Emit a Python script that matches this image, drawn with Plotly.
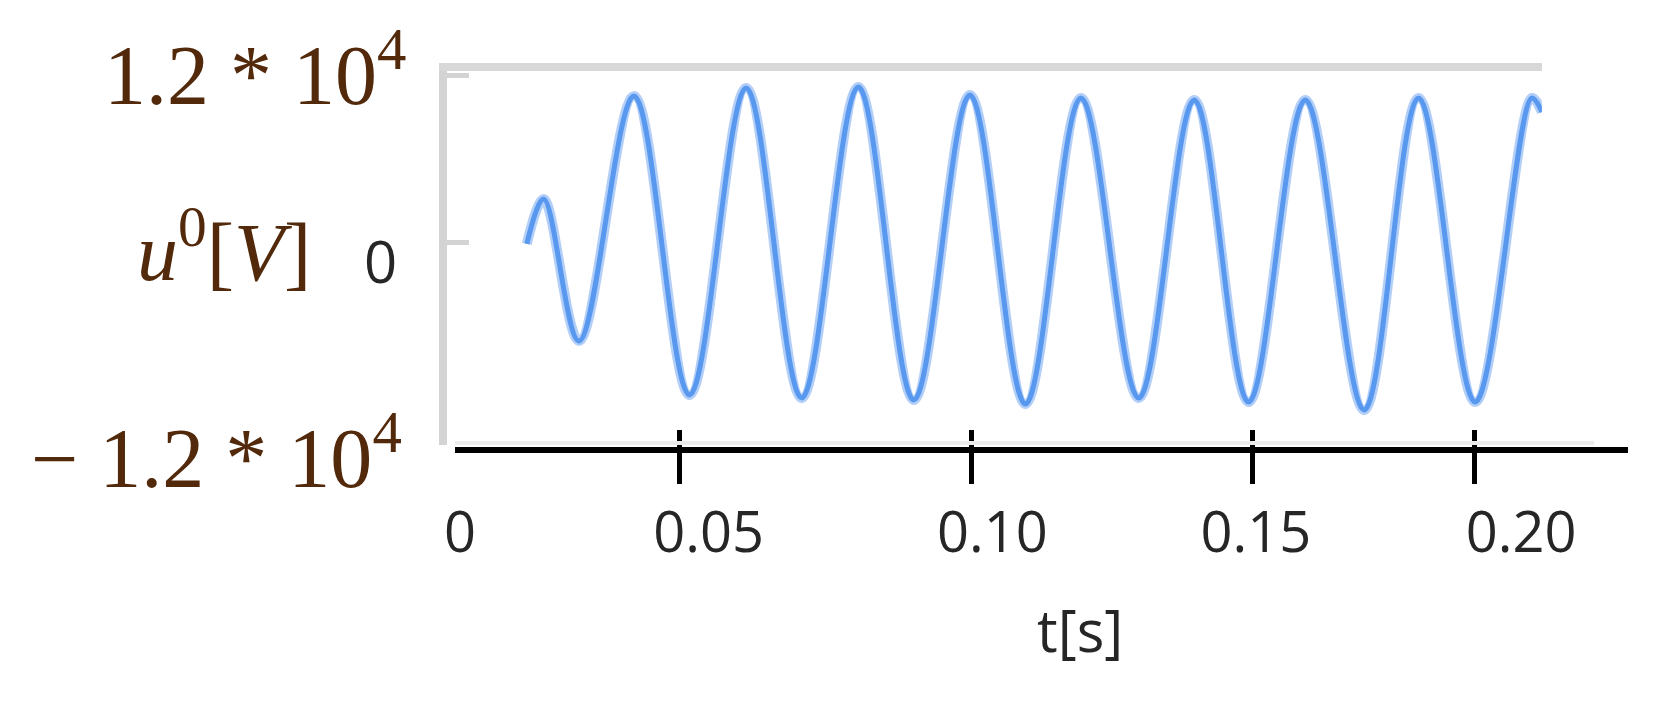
import plotly.graph_objects as go

# waveform (start, peaks and troughs, end)
t_s = [0.0206, 0.0236, 0.0299, 0.0397, 0.0496, 0.0597, 0.0696, 0.0797, 0.0896, 0.0996,
       0.1095, 0.1194, 0.1297, 0.1396, 0.1493, 0.1594, 0.1699, 0.1796, 0.1897, 0.1998,
       0.2016]
u0_v = [-140, 3090, -7110, 10490, -10990, 11070, -11210, 11140, -11350, 10560,
        -11640, 10350, -11210, 10200, -11500, 10200, -12070, 10350, -11500, 10350,
        9340]

# hand-drawn time axis: tick marks and labels sit where the picture has them
tick_marks = [0.0478, 0.0999, 0.1500, 0.1895]
label_pos = [0.0087, 0.0530, 0.1036, 0.1506, 0.1979]
label_text = ["0", "0.05", "0.10", "0.15", "0.20"]

y_ticks = [0, 12000]

W, H = 1672, 703
X_RANGE = [0.00638, 0.20159]
X_AXIS_RANGE = [0.00780, 0.21701]
FRAME_RANGE = [0.00780, 0.20833]
Y_RANGE = [-14588, 12288]

SANS = "Open Sans, sans-serif"
SERIF = "Liberation Serif, Times New Roman, serif"
LABEL_BROWN = "#52290a"
TICK_GREY = "#262626"

fig = go.Figure()
# soft halo + core to mimic the blurry screenshot line
fig.add_scatter(x=t_s, y=u0_v, mode="lines", line_shape="spline",
                line=dict(color="#b3cff8", width=10), hoverinfo="skip")
fig.add_scatter(x=t_s, y=u0_v, mode="lines", line_shape="spline",
                line=dict(color="#5898ef", width=5), name="u0")
for ax in ["x2", "x3", "x4", "x5"]:
    fig.add_scatter(x=[], y=[], xaxis=ax, yaxis="y")

dom_plot = [439 / W, 1541 / W]
dom_axis = [447 / W, 1628 / W]
dom_frame = [447 / W, 1593 / W]
pos_axis = 1 - 450 / H

fig.update_layout(
    width=W, height=H,
    margin=dict(l=0, r=0, t=0, b=0),
    paper_bgcolor="white", plot_bgcolor="rgba(0,0,0,0)",
    showlegend=False,
    xaxis=dict(domain=dom_plot, range=X_RANGE, side="top", anchor="y",
               showline=True, linecolor="#d8d8d8", linewidth=8,
               showticklabels=False, ticks="", showgrid=False, zeroline=False),
    yaxis=dict(domain=[1 - 445 / H, 1 - 71 / H], range=Y_RANGE,
               showline=True, linecolor="#d3d3d3", linewidth=8,
               ticks="inside", tickvals=y_ticks, ticklen=22, tickwidth=5, tickcolor="#d3d3d3",
               showticklabels=False, showgrid=False, zeroline=False),
    # light bottom edge of the original frame
    xaxis5=dict(domain=dom_frame, range=FRAME_RANGE, anchor="free", position=1 - 443 / H,
                showline=True, linecolor="#ececec", linewidth=4,
                ticks="", showticklabels=False, showgrid=False, zeroline=False),
    # black time axis with ticks crossing the line
    xaxis2=dict(domain=dom_axis, range=X_AXIS_RANGE, anchor="free", position=pos_axis,
                showline=True, linecolor="black", linewidth=6,
                ticks="outside", tickvals=tick_marks, ticklen=31, tickwidth=5, tickcolor="black",
                showticklabels=False, showgrid=False, zeroline=False),
    xaxis3=dict(domain=dom_axis, range=X_AXIS_RANGE, anchor="free", position=pos_axis,
                showline=False, ticks="inside", tickvals=tick_marks, ticklen=20, tickwidth=5,
                tickcolor="black", showticklabels=False, showgrid=False, zeroline=False),
    xaxis4=dict(domain=dom_axis, range=X_AXIS_RANGE, anchor="free", position=pos_axis,
                showline=False, ticks="outside", tickvals=label_pos, ticktext=label_text,
                ticklen=34, tickcolor="rgba(0,0,0,0)",
                tickfont=dict(family=SANS, size=56, color=TICK_GREY),
                showgrid=False, zeroline=False),
)

# axis texts of the original plot
fig.add_annotation(text="t[s]", xref="paper", yref="paper", x=1076 / W, y=1 - 629 / H,
                   xanchor="center", yanchor="middle", showarrow=False,
                   font=dict(family=SANS, size=58, color=TICK_GREY))
fig.add_annotation(text="1.2 * 10<sup>4</sup>", xref="paper", yref="paper", x=400 / W, y=1 - 70 / H,
                   xanchor="right", yanchor="middle", showarrow=False,
                   font=dict(family=SERIF, size=84, color=LABEL_BROWN))
fig.add_annotation(text="\u2212 1.2 * 10<sup>4</sup>", xref="paper", yref="paper", x=396 / W, y=1 - 452 / H,
                   xanchor="right", yanchor="middle", showarrow=False,
                   font=dict(family=SERIF, size=84, color=LABEL_BROWN))
fig.add_annotation(text="<i>u</i><sup>0</sup>[<i>V</i>]", xref="paper", yref="paper", x=304 / W, y=1 - 246 / H,
                   xanchor="right", yanchor="middle", showarrow=False,
                   font=dict(family=SERIF, size=82, color=LABEL_BROWN))
fig.add_annotation(text="0", xref="paper", yref="paper", x=372 / W, y=1 - 260 / H,
                   xanchor="center", yanchor="middle", showarrow=False,
                   font=dict(family=SANS, size=58, color=TICK_GREY))

fig.write_html("out.html", config={"displayModeBar": False},
               post_script="document.body.style.margin = '0px';")
